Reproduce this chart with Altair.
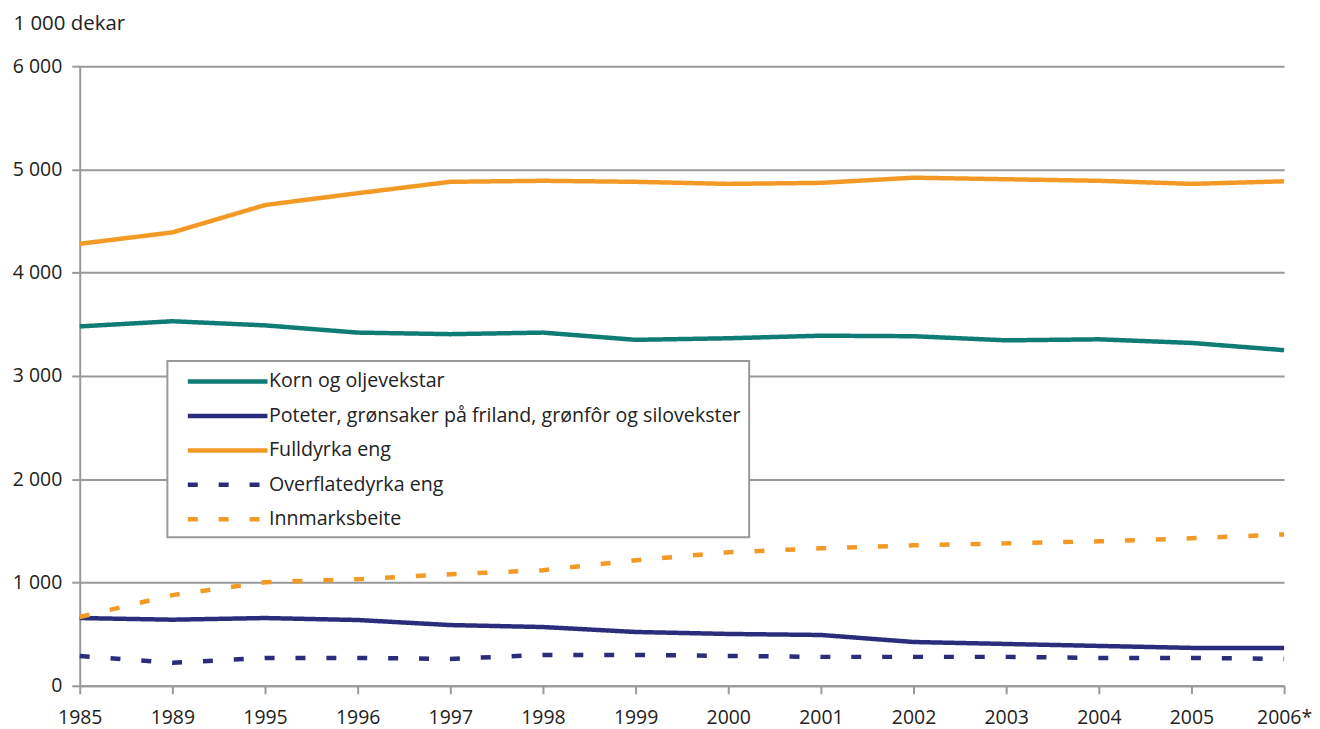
import altair as alt
import pandas as pd

years = ["1985", "1989", "1995", "1996", "1997", "1998", "1999", "2000",
         "2001", "2002", "2003", "2004", "2005", "2006*"]

series_names = [
    "Korn og oljevekstar",
    "Poteter, grønsaker på friland, grønfôr og silovekster",
    "Fulldyrka eng",
    "Overflatedyrka eng",
    "Innmarksbeite",
]

korn = [3480, 3530, 3490, 3420, 3405, 3420, 3350, 3365, 3390, 3385, 3345, 3355, 3320, 3250]
poteter = [656, 640, 656, 637, 588, 569, 521, 502, 492, 424, 405, 386, 367, 365]
fulldyrka = [4280, 4390, 4655, 4770, 4880, 4890, 4880, 4860, 4870, 4920, 4905, 4890, 4860, 4885]
overflate = [289, 222, 270, 270, 260, 299, 299, 289, 280, 280, 280, 270, 270, 260]
innmark = [666, 878, 1003, 1032, 1080, 1119, 1215, 1293, 1331, 1360, 1379, 1399, 1428, 1466]

colors = ["#0f7c76", "#2b2d7c", "#f39a26", "#2b2d7c", "#f39a26"]
dashes = [[1, 0], [1, 0], [1, 0], [10, 21], [10, 21]]
widths = [4.5, 4.5, 4.5, 6, 6]

rows = []
for name, vals in zip(series_names, [korn, poteter, fulldyrka, overflate, innmark]):
    for y, v in zip(years, vals):
        rows.append({"year": y, "value": v, "series": name})
df = pd.DataFrame(rows)

FONT = "Open Sans"


def make_legend():
    return alt.Legend(orient="none", legendX=88, legendY=296,
                      symbolType="M0,0L8,0", symbolSize=400,
                      symbolStrokeWidth=5,
                      labelFontSize=19.7, labelFont=FONT,
                      labelColor="#222", labelLimit=900,
                      labelOffset=69, rowPadding=11.6,
                      padding=8, strokeColor="#999",
                      fillColor="white", cornerRadius=0)


chart = alt.Chart(df).mark_line(strokeCap="butt", strokeJoin="round").encode(
    x=alt.X("year:N", sort=years, title=None,
            scale=alt.Scale(type="point", padding=0),
            axis=alt.Axis(labelAngle=0, labelFontSize=19.5, labelColor="#222",
                          labelFont=FONT, domainColor="#999", domainWidth=2,
                          tickColor="#999", tickWidth=2, tickSize=8,
                          labelPadding=15, grid=False)),
    y=alt.Y("value:Q", title="1 000 dekar",
            scale=alt.Scale(domain=[0, 6000], nice=False),
            axis=alt.Axis(values=[0, 1000, 2000, 3000, 4000, 5000, 6000],
                          labelExpr="replace(format(datum.value, ',d'), ',', ' ')",
                          labelFontSize=19.5, labelColor="#222", labelFont=FONT,
                          domainColor="#999", domainWidth=2,
                          tickColor="#999", tickWidth=2, tickSize=8,
                          labelPadding=10,
                          gridColor="#999", gridWidth=2,
                          titleAngle=0, titleX=-67, titleY=-43,
                          titleAlign="left", titleBaseline="middle",
                          titleFontSize=20.5, titleFontWeight="normal",
                          titleColor="#222", titleFont=FONT)),
    color=alt.Color("series:N",
                    scale=alt.Scale(domain=series_names, range=colors),
                    title=None, legend=make_legend()),
    strokeDash=alt.StrokeDash("series:N",
                              scale=alt.Scale(domain=series_names, range=dashes),
                              title=None, legend=make_legend()),
    strokeWidth=alt.StrokeWidth("series:N",
                                scale=alt.Scale(domain=series_names, range=widths),
                                legend=None),
).properties(
    width=1209, height=622,
    autosize=alt.AutoSizeParams(type="none"),
    padding={"left": 72, "top": 57, "right": 28, "bottom": 44},
).configure_view(stroke=None).configure_legend(strokeWidth=2)

chart.save("out.html", embed_options={"renderer": "svg", "actions": False})
